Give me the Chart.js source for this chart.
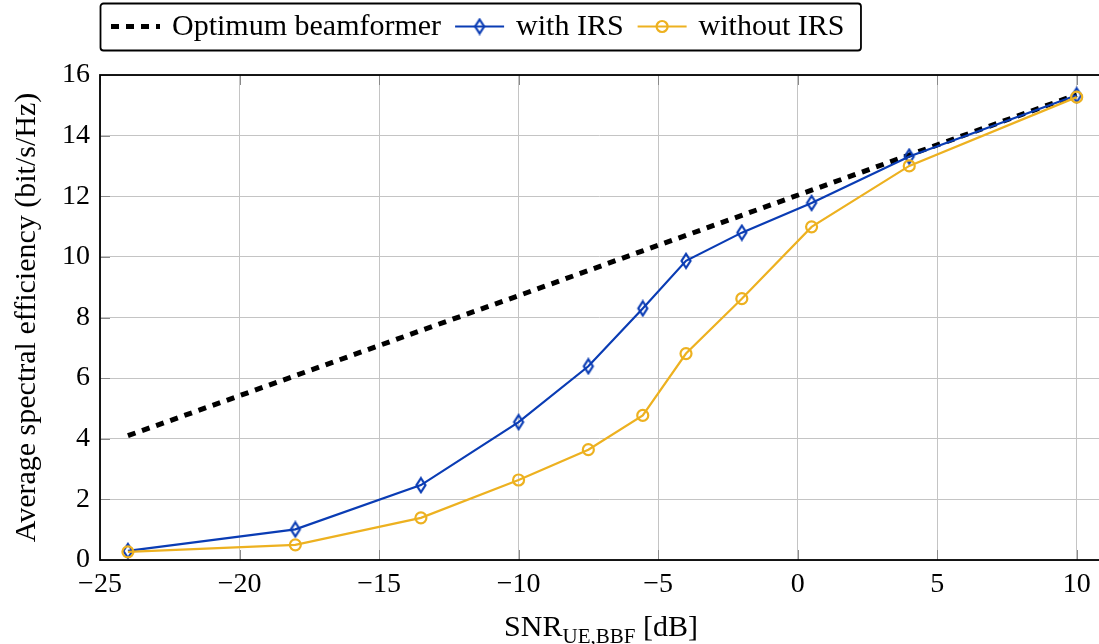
<!DOCTYPE html>
<html lang="en">
<head>
    <meta charset="UTF-8">
    <title>Spectral efficiency vs SNR</title>
    <script src="https://cdn.jsdelivr.net/npm/chart.js"></script>
    <style>
        html, body { margin: 0; padding: 0; background: #fff; }
        #wrap { width: 1099px; height: 644px; }
    </style>
</head>
<body>
<div id="wrap"><canvas id="seChart" width="1099" height="644"></canvas></div>

<script>
    // data
    const snrDb = [-24, -18, -13.5, -10, -7.5, -5.55, -4, -2, 0.5, 4, 10];
    const optimumSE = [4.1, 6.08, 7.57, 8.72, 9.55, 10.2, 10.71, 11.37, 12.2, 13.36, 15.35];
    const withIrsSE = [0.3, 1.01, 2.47, 4.55, 6.39, 8.3, 9.87, 10.8, 11.78, 13.31, 15.33];
    const withoutIrsSE = [0.27, 0.5, 1.39, 2.64, 3.64, 4.77, 6.81, 8.62, 10.99, 13.0, 15.27];
    const xTicks = [-25, -20, -15, -10, -5, 0, 5, 10];
    const yTicks = [0, 2, 4, 6, 8, 10, 12, 14, 16];
    const seriesNames = ['Optimum beamformer', 'with IRS', 'without IRS'];

    const BLUE = '#0a3cb4';
    const YELLOW = '#edb120';
    const SERIF = '"Liberation Serif", "DejaVu Serif", serif';

    function pts(ys) {
        return snrDb.map((x, i) => ({ x: x, y: ys[i] }));
    }

    // pgfplots style diamond (taller than wide)
    function diamondMark(color) {
        const c = document.createElement('canvas');
        c.width = 14; c.height = 18;
        const g = c.getContext('2d');
        g.strokeStyle = color;
        g.lineWidth = 2.2;
        g.beginPath();
        g.moveTo(7, 2); g.lineTo(11.5, 9); g.lineTo(7, 16); g.lineTo(2.5, 9);
        g.closePath();
        g.stroke();
        return c;
    }
    const diamond = diamondMark(BLUE);

    function fmt(v) {
        return v < 0 ? '\u2212' + Math.abs(v) : String(v);
    }

    // frame, inner tick marks, legend, x title
    const decor = {
        id: 'decor',
        afterDatasetsDraw(chart) {
            const ctx = chart.ctx;
            const a = chart.chartArea;
            const xs = chart.scales.x, ys = chart.scales.y;
            ctx.save();
            ctx.strokeStyle = '#8a8a8a';
            ctx.lineWidth = 1;
            xTicks.forEach(v => {
                const px = Math.round(xs.getPixelForValue(v)) + 0.5;
                ctx.beginPath();
                ctx.moveTo(px, a.bottom); ctx.lineTo(px, a.bottom - 10);
                ctx.moveTo(px, a.top); ctx.lineTo(px, a.top + 10);
                ctx.stroke();
            });
            yTicks.forEach(v => {
                const py = Math.round(ys.getPixelForValue(v)) + 0.5;
                ctx.beginPath();
                ctx.moveTo(a.left, py); ctx.lineTo(a.left + 10, py);
                ctx.stroke();
            });
            ctx.strokeStyle = '#000';
            ctx.lineWidth = 1.8;
            ctx.strokeRect(a.left, a.top, a.right - a.left + 4, a.bottom - a.top);
            ctx.restore();
        },
        afterDraw(chart) {
            const ctx = chart.ctx;
            ctx.save();

            // legend
            const cy = 26.5;
            ctx.font = '30px ' + SERIF;
            ctx.textBaseline = 'middle';
            ctx.textAlign = 'left';
            let x = 111;
            const starts = [];
            const sets = chart.data.datasets;
            sets.forEach((ds, i) => {
                starts.push(x);
                x += 61;
                x += ctx.measureText(seriesNames[i]).width + 14;
            });
            const right = x - 14 + 16;
            ctx.strokeStyle = '#000';
            ctx.lineWidth = 1.8;
            ctx.beginPath();
            ctx.roundRect(100.5, 3.5, right - 100, 47, 3);
            ctx.stroke();
            sets.forEach((ds, i) => {
                const sx = starts[i];
                ctx.save();
                ctx.strokeStyle = ds.borderColor;
                ctx.lineWidth = ds.borderWidth;
                ctx.setLineDash(ds.borderDash || []);
                ctx.beginPath();
                ctx.moveTo(sx, cy); ctx.lineTo(sx + 49, cy);
                ctx.stroke();
                ctx.restore();
                if (ds.pointStyle === 'circle') {
                    ctx.strokeStyle = ds.borderColor;
                    ctx.lineWidth = 2.2;
                    ctx.beginPath();
                    ctx.arc(sx + 24.5, cy, 5.5, 0, Math.PI * 2);
                    ctx.stroke();
                } else if (ds.pointStyle instanceof HTMLCanvasElement) {
                    ctx.drawImage(ds.pointStyle, sx + 24.5 - 7, cy - 9);
                }
                ctx.fillStyle = '#000';
                ctx.fillText(seriesNames[i], sx + 61, cy + 1);
            });

            // x axis title with subscript
            const base = 636;
            ctx.textBaseline = 'alphabetic';
            const big = '30px ' + SERIF, small = '21px ' + SERIF;
            ctx.font = big; const w1 = ctx.measureText('SNR').width;
            ctx.font = small; const w2 = ctx.measureText('UE,BBF').width;
            ctx.font = big; const w3 = ctx.measureText(' [dB]').width;
            let tx = 601 - (w1 + w2 + w3) / 2;
            ctx.fillStyle = '#000';
            ctx.font = big; ctx.fillText('SNR', tx, base); tx += w1;
            ctx.font = small; ctx.fillText('UE,BBF', tx, base + 7); tx += w2;
            ctx.font = big; ctx.fillText(' [dB]', tx, base);
            ctx.restore();
        }
    };

    new Chart(document.getElementById('seChart'), {
        type: 'line',
        data: {
            datasets: [
                {
                    label: seriesNames[0],
                    data: pts(optimumSE),
                    borderColor: '#000',
                    borderWidth: 5,
                    borderDash: [8, 7],
                    pointRadius: 0,
                    pointStyle: false,
                    tension: 0,
                    order: 3
                },
                {
                    label: seriesNames[1],
                    data: pts(withIrsSE),
                    borderColor: BLUE,
                    borderWidth: 2.2,
                    pointStyle: diamond,
                    pointRadius: 7,
                    tension: 0,
                    order: 2
                },
                {
                    label: seriesNames[2],
                    data: pts(withoutIrsSE),
                    borderColor: YELLOW,
                    backgroundColor: 'rgba(0,0,0,0)',
                    borderWidth: 2.2,
                    pointStyle: 'circle',
                    pointRadius: 5.5,
                    pointBorderWidth: 2.2,
                    pointBorderColor: YELLOW,
                    pointBackgroundColor: 'rgba(0,0,0,0)',
                    tension: 0,
                    order: 1
                }
            ]
        },
        options: {
            responsive: false,
            animation: false,
            layout: { autoPadding: false, padding: { top: 75, right: 0, bottom: 0, left: 0 } },
            plugins: {
                legend: { display: false },
                tooltip: { enabled: false }
            },
            scales: {
                x: {
                    type: 'linear',
                    min: -25,
                    max: 10.8,
                    afterBuildTicks: s => { s.ticks = xTicks.map(v => ({ value: v })); },
                    afterFit: s => { s.height = 84; s.paddingLeft = 0; s.paddingRight = 0; },
                    grid: { color: '#c4c4c4', lineWidth: 1, drawTicks: false },
                    border: { display: false },
                    ticks: {
                        padding: 8,
                        color: '#000',
                        font: { family: SERIF, size: 28 },
                        callback: v => fmt(v),
                        maxRotation: 0
                    }
                },
                y: {
                    min: 0,
                    max: 16,
                    afterBuildTicks: s => { s.ticks = yTicks.map(v => ({ value: v })); },
                    afterFit: s => { s.width = 100; },
                    grid: { color: '#c4c4c4', lineWidth: 1, drawTicks: false },
                    border: { display: false },
                    ticks: {
                        padding: 10,
                        color: '#000',
                        font: { family: SERIF, size: 28 },
                        callback: v => fmt(v)
                    },
                    title: {
                        display: true,
                        text: 'Average spectral efficiency (bit/s/Hz)',
                        color: '#000',
                        font: { family: SERIF, size: 30, lineHeight: 1.2 },
                        padding: { top: 9, bottom: 0 }
                    }
                }
            }
        },
        plugins: [decor]
    });
</script>

</body>
</html>
